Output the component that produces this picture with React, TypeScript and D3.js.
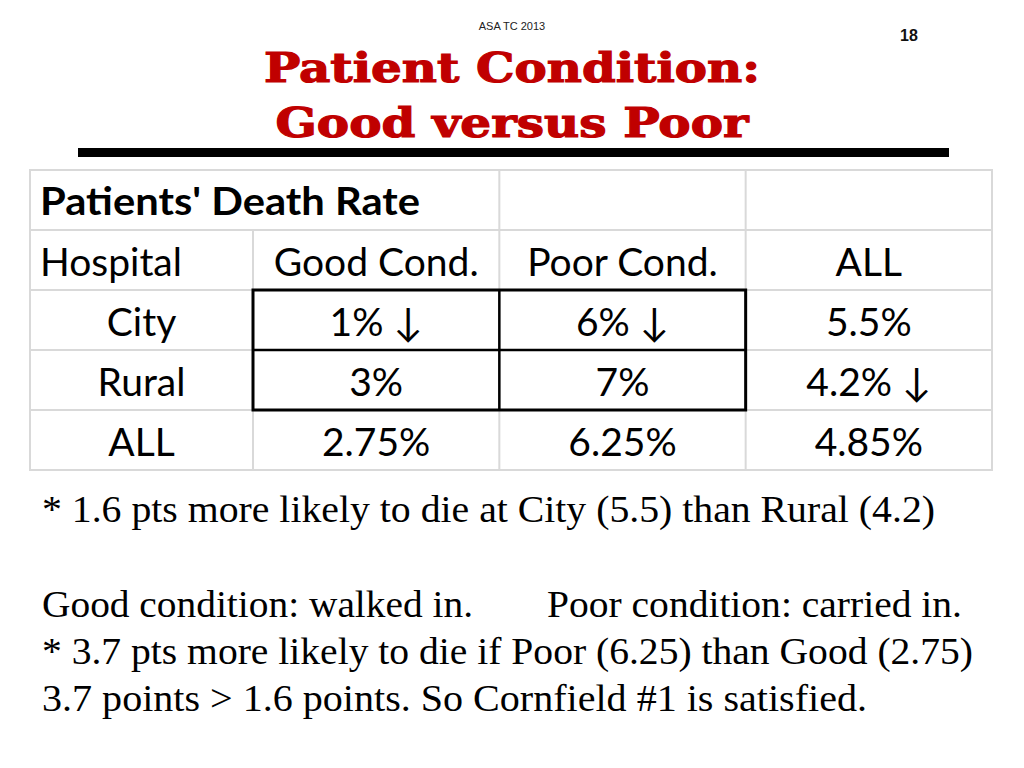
import React from "react";
import * as d3 from "d3";

// slide texts
const headerNote = "ASA TC 2013";
const pageNumber = "18";
const titleLines = ["Patient Condition:", "Good versus Poor"];

// table data
const tableTitle = "Patients' Death Rate";
const rowLabelHeader = "Hospital";
const columns = ["Good Cond.", "Poor Cond.", "ALL"];
const hospitals = ["City", "Rural", "ALL"];
const goodCond = [1, 3, 2.75];
const poorCond = [6, 7, 6.25];
const allCond = [5.5, 4.2, 4.85];
// cells marked with a down arrow: [row, col]
const arrows: [number, number][] = [[0, 0], [0, 1], [1, 2]];

const notes = [
  "* 1.6 pts more likely to die at City (5.5) than Rural (4.2)",
  "Good condition: walked in.",
  "Poor condition: carried in.",
  "* 3.7 pts more likely to die if Poor (6.25) than Good (2.75)",
  "3.7 points > 1.6 points.  So Cornfield #1 is satisfied.",
];

const W = 1024, H = 768;
const tableFont = "Lato, 'Open Sans', sans-serif";
const grid = "#d9d9d9";

export default function App() {
  const values = [goodCond, poorCond, allCond];
  const fmt = (v: number) => `${v}%`;

  // layout scales
  const rowKeys = ["title", "head", ...hospitals.map((h, i) => `r${i}`)];
  const y = d3.scaleBand().domain(rowKeys).range([170, 470]);
  const x = d3.scaleBand().domain(columns).range([253, 992]);
  const left = 30;
  const bw = x.bandwidth();
  const bh = y.bandwidth();

  const hasArrow = (r: number, c: number) =>
    arrows.some(([ar, ac]) => ar === r && ac === c);

  // note lines: [text, x, baseline, width]
  const noteLayout: [string, number, number, number][] = [
    [notes[0], 42, 522, 893],
    [notes[1], 42, 617, 431],
    [notes[2], 547, 617, 415],
    [notes[3], 42, 664, 931],
    [notes[4], 42, 711, 825],
  ];

  return (
    <svg width={W} height={H} style={{ position: "absolute", left: 0, top: 0, background: "#fff" }}>
      {/* header */}
      <text x={512} y={30} textAnchor="middle" fontFamily="Liberation Sans, Arial, sans-serif" fontSize={11} fill="#222">
        {headerNote}
      </text>
      <text x={909} y={41} textAnchor="middle" fontFamily="Liberation Sans, Arial, sans-serif" fontSize={16} fontWeight="bold" fill="#111">
        {pageNumber}
      </text>
      {titleLines.map((t, i) => (
        <text
          key={t}
          x={512}
          y={82 + i * 55}
          textAnchor="middle"
          fontFamily="'DejaVu Serif', serif"
          fontWeight="bold"
          fontSize={41}
          fill="#c00000"
          stroke="#c00000"
          strokeWidth={1.2}
          textLength={i === 0 ? 496 : 473}
          lengthAdjust="spacingAndGlyphs"
        >
          {t}
        </text>
      ))}
      <rect x={78} y={148} width={871} height={9} fill="#000" />

      {/* table grid */}
      <g stroke={grid} strokeWidth={2} fill="none">
        <rect x={left} y={y("title")!} width={992 - left} height={470 - y("title")!} />
        {rowKeys.slice(1).map((k) => (
          <line key={k} x1={left} x2={992} y1={y(k)!} y2={y(k)!} />
        ))}
        <line x1={x(columns[0])!} x2={x(columns[0])!} y1={y("head")!} y2={470} />
        {columns.slice(1).map((c) => (
          <line key={c} x1={x(c)!} x2={x(c)!} y1={170} y2={470} />
        ))}
      </g>
      {/* highlighted box */}
      <g stroke="#000" fill="none">
        <rect x={x(columns[0])!} y={y("r0")!} width={bw * 2} height={bh * 2} strokeWidth={3} />
        <line x1={x(columns[1])!} x2={x(columns[1])!} y1={y("r0")!} y2={y("r2")!} strokeWidth={2.5} />
        <line x1={x(columns[0])!} x2={x(columns[2])!} y1={y("r1")!} y2={y("r1")!} strokeWidth={2.5} />
      </g>

      {/* table text */}
      <g fontFamily={tableFont} fontSize={39} fill="#000">
        <text x={40} y={y("title")! + 45} fontWeight="bold" fontSize={39} textLength={380} lengthAdjust="spacingAndGlyphs">
          {tableTitle}
        </text>
        <text x={40} y={y("head")! + 46}>{rowLabelHeader}</text>
        {columns.map((c) => (
          <text key={c} x={x(c)! + bw / 2} y={y("head")! + 46} textAnchor="middle">
            {c}
          </text>
        ))}
        {hospitals.map((h, r) => (
          <g key={h}>
            <text x={(left + x(columns[0])!) / 2} y={y(`r${r}`)! + 46} textAnchor="middle">{h}</text>
            {values.map((col, c) => (
              <text key={c} x={x(columns[c])! + bw / 2} y={y(`r${r}`)! + 46} textAnchor="middle">
                {fmt(col[r])}
                {hasArrow(r, c) ? " \u2193" : ""}
              </text>
            ))}
          </g>
        ))}
      </g>

      {/* notes */}
      <g fontFamily="'Liberation Serif', 'Times New Roman', serif" fontSize={37} fill="#000" style={{ whiteSpace: "pre" }}>
        {noteLayout.map(([t, nx, ny, w]) => (
          <text key={t} x={nx} y={ny} textLength={w} lengthAdjust="spacingAndGlyphs">{t}</text>
        ))}
      </g>
    </svg>
  );
}
